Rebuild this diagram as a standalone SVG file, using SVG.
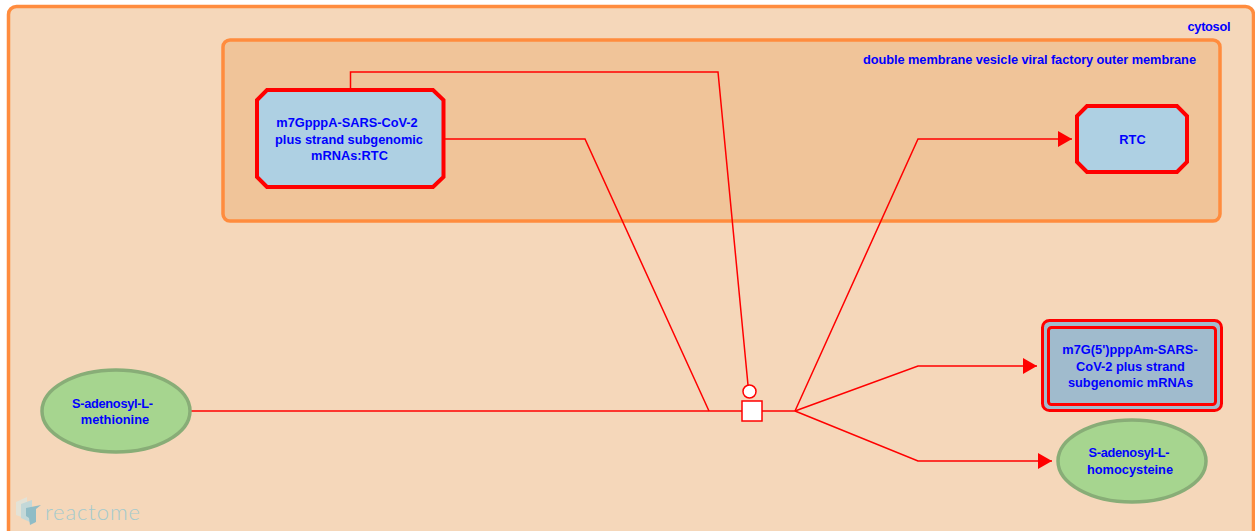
<svg xmlns="http://www.w3.org/2000/svg" width="1255" height="531" viewBox="0 0 1255 531">
<style>
text{font-family:"Liberation Sans",Arial,sans-serif;font-weight:bold;font-size:12.8px;fill:#0000ff;text-anchor:middle}
.comp{stroke:#ff8c3e;stroke-width:3.500}
.complex{fill:#aed0e3;stroke:#ff0000;stroke-width:4}
.chem{fill:#a6d58f;stroke:#88ad77;stroke-width:3.500}
.edge{fill:none;stroke:#ff0000;stroke-width:1.500}
.wm{font-family:"Lato","Open Sans",sans-serif;font-weight:300;font-size:22px;fill:#a4cacd;text-anchor:start}
</style>
<defs><marker id="arrow" markerUnits="userSpaceOnUse" markerWidth="14" markerHeight="16" refX="14" refY="8" orient="auto"><path d="M0,0L14,8L0,16Z" fill="#ff0000"/></marker></defs>
<g id="cytosol"><rect class="comp" x="8.500" y="6.500" width="1245" height="560" rx="8" fill="#f5d7ba"/><text x="1209" y="31" textLength="43">cytosol</text></g>
<g id="dmv"><rect class="comp" x="223" y="40" width="997" height="181" rx="7" fill="#f0c499"/><text x="1029.500" y="64" textLength="333">double membrane vesicle viral factory outer membrane</text></g>
<g id="watermark"><path d="M16 502L27 497V519L16 515Z" fill="#e3e2d6"/><path d="M21 504L32 500V523L21 518Z" fill="#c3d8d8"/><path d="M26 508L41 505L36 509V522L30 525L29 518L26 516Z" fill="#8fbcc6"/><text class="wm" x="45" y="519.500" textLength="95">reactome</text></g>
<g id="connectors">
<path class="edge" d="M191 411H742"/>
<path class="edge" d="M445 139H585L709 411"/>
<path class="edge" d="M350.500 88V72H718L748 385"/>
<path class="edge" d="M762 411H795"/>
<path class="edge" marker-end="url(#arrow)" d="M795 411L918 139H1072"/>
<path class="edge" marker-end="url(#arrow)" d="M795 411L918 366H1037"/>
<path class="edge" marker-end="url(#arrow)" d="M795 411L918 461H1052"/>
<circle cx="749.500" cy="391.500" r="6.500" fill="#fff" stroke="#ff0000" stroke-width="1.500"/>
<rect x="742" y="401" width="20" height="20" fill="#fff" stroke="#ff0000" stroke-width="1.500"/>
</g>
<g id="n1"><path class="complex" d="M267 90H433L443.500 100V177L433 187H267L257 177V100Z"/><text x="347" y="127">m7GpppA-SARS-CoV-2</text><text x="349" y="144">plus strand subgenomic</text><text x="349.500" y="160">mRNAs:RTC</text></g>
<g id="n2"><path class="complex" d="M1087 106H1177L1187 116V162L1177 172H1087L1077 162V116Z"/><text x="1132.500" y="144">RTC</text></g>
<g id="n3"><rect x="1042.500" y="320.500" width="179" height="90" rx="7" fill="#a0bbcd" stroke="#ff0000" stroke-width="3"/><rect x="1048.500" y="327.500" width="167" height="77" rx="3" fill="#a0bbcd" stroke="#ff0000" stroke-width="3"/><text x="1130" y="354">m7G(5')pppAm-SARS-</text><text x="1130.500" y="371">CoV-2 plus strand</text><text x="1130.500" y="387">subgenomic mRNAs</text></g>
<g id="n4"><ellipse class="chem" cx="116" cy="411" rx="74" ry="41"/><text x="112.500" y="408" textLength="81">S-adenosyl-L-</text><text x="115" y="424">methionine</text></g>
<g id="n5"><ellipse class="chem" cx="1132" cy="461" rx="74" ry="41"/><text x="1129" y="457" textLength="81">S-adenosyl-L-</text><text x="1130" y="474">homocysteine</text></g>
</svg>
